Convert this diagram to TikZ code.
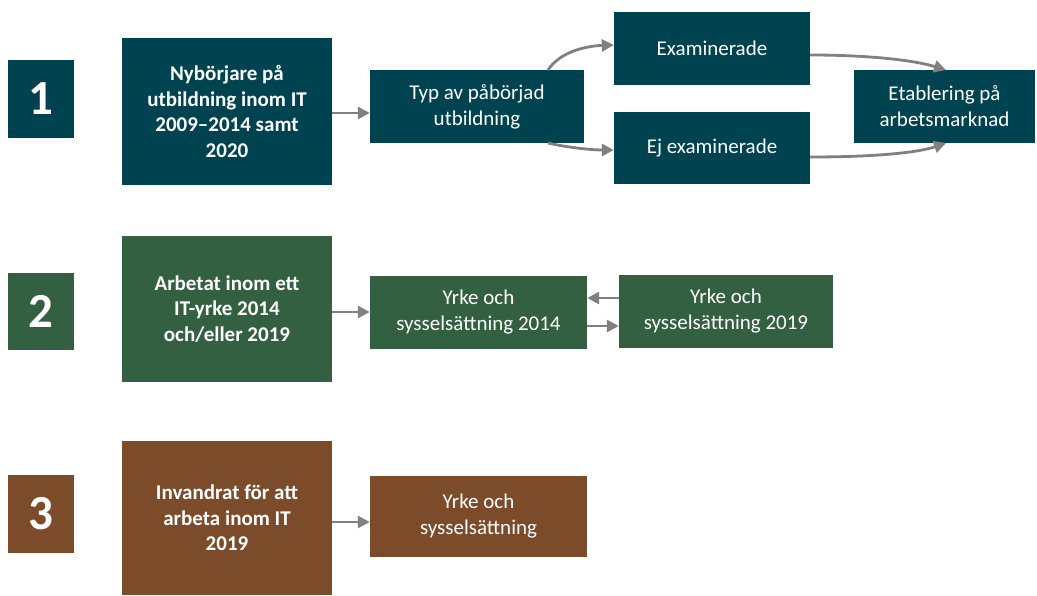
\documentclass[tikz,border=0pt]{standalone}
\usepackage{fontspec}
\setmainfont{Carlito}
\usetikzlibrary{arrows.meta}
\definecolor{cteal}{RGB}{0,67,80}
\definecolor{cgreen}{RGB}{51,96,64}
\definecolor{cbrown}{RGB}{123,75,42}
\definecolor{carrow}{RGB}{128,128,128}
\tikzset{
  box/.style={draw=none, inner sep=0pt, text=white, align=center, font=\fontsize{21}{26}\selectfont},
  bbox/.style={box, font=\fontsize{21}{25.5}\selectfont\bfseries},
  numbox/.style={box, font=\fontsize{49}{49}\selectfont\bfseries},
  conn/.style={draw=carrow, line width=2.8pt, -{Triangle[length=12pt,width=12pt]}},
}
\begin{document}
\begin{tikzpicture}[x=1pt,y=-1pt]
\useasboundingbox (0,0) rectangle (1037,595);
% row 1
\node[numbox, fill=cteal, minimum width=66pt, minimum height=78pt] (n1) at (41,99) {1};
\node[bbox, fill=cteal, minimum width=210pt, minimum height=147pt] (b1) at (227,111.5) {Nybörjare på\\utbildning inom IT\\2009–2014 samt\\2020};
\node[box, fill=cteal, minimum width=214pt, minimum height=73pt] (typ) at (477,106.5) {Typ av påbörjad\\utbildning};
\node[box, fill=cteal, minimum width=196pt, minimum height=73pt] (ex) at (712,48.5) {Examinerade};
\node[box, fill=cteal, minimum width=196pt, minimum height=72pt] (ej) at (712,148) {Ej examinerade};
\node[box, fill=cteal, minimum width=181pt, minimum height=73pt] (et) at (944.5,106.5) {Etablering på\\arbetsmarknad};
\draw[conn] (b1.east |- 0,113) -- (typ.west |- 0,113);
\draw[conn] (548,70) .. controls (560,52) and (585,46) .. (ex.west |- 0,45);
\draw[conn] (548,143) .. controls (565,147) and (590,150) .. (ej.west |- 0,150);
\draw[conn] (ex.east |- 0,55) .. controls (880,55) and (920,62) .. (946,70);
\draw[conn] (ej.east |- 0,157) .. controls (880,157) and (920,152) .. (946,143);
% row 2
\node[numbox, fill=cgreen, minimum width=66pt, minimum height=77pt] (n2) at (41,311.5) {2};
\node[bbox, fill=cgreen, minimum width=210pt, minimum height=146pt] (b2) at (227,309) {Arbetat inom ett\\IT-yrke 2014\\och/eller 2019};
\node[box, fill=cgreen, minimum width=217pt, minimum height=73pt] (y14) at (478.5,312.5) {Yrke och\\sysselsättning 2014};
\node[box, fill=cgreen, minimum width=214pt, minimum height=73pt] (y19) at (726,311.5) {Yrke och\\sysselsättning 2019};
\draw[conn] (b2.east |- 0,312) -- (y14.west |- 0,312);
\draw[conn] (y19.west |- 0,298) -- (y14.east |- 0,298);
\draw[conn] (y14.east |- 0,326) -- (y19.west |- 0,326);
% row 3
\node[numbox, fill=cbrown, minimum width=66pt, minimum height=78pt] (n3) at (41,514) {3};
\node[bbox, fill=cbrown, minimum width=210pt, minimum height=154pt] (b3) at (227,518) {Invandrat för att\\arbeta inom IT\\2019};
\node[box, fill=cbrown, minimum width=217pt, minimum height=81pt] (y3) at (478.5,516.5) {Yrke och\\sysselsättning};
\draw[conn] (b3.east |- 0,522) -- (y3.west |- 0,522);
\end{tikzpicture}
\end{document}
